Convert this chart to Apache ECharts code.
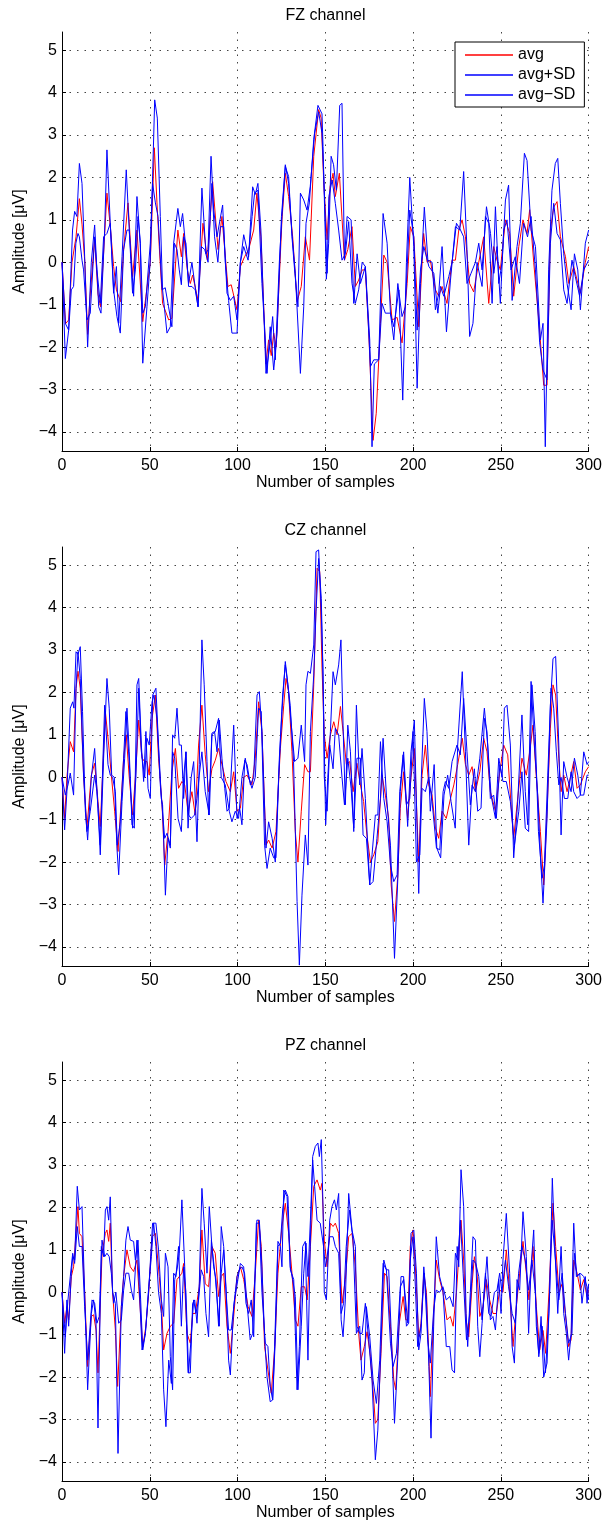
<!DOCTYPE html>
<html>
<head>
<meta charset="utf-8">
<title>FZ / CZ / PZ channels</title>
<script src="https://cdn.jsdelivr.net/npm/echarts@6/dist/echarts.min.js"></script>
<style>
  html, body { margin: 0; padding: 0; background: #fff; }
  #main { width: 605px; height: 1524px; }
</style>
</head>
<body>
<div id="main"></div>
<script>
// channel titles, legend names, axis ranges
var titles = ['FZ channel', 'CZ channel', 'PZ channel'];
var seriesNames = ['avg', 'avg+SD', 'avg\u2212SD'];
var xRange = [0, 300];
var xStep = 50;
var yRange = [-4.45, 5.43];

// [sample, amplitude]
var fzAvg = [[0,0],[2,-1.45],[3.8,-1.36],[5.7,0],[8,0.6],[9.9,1.5],[11.4,0.9],[13,0],[14.6,-1.7],[16,-0.8],[18.6,0.55],[20.5,-0.75],[22,-1.05],[25.6,1.63],[27.5,0.85],[29.4,-0.1],[31,-0.65],[33.4,-0.93],[35,0.25],[37.6,1.4],[40.2,-0.34],[42.7,0.76],[46,-1.4],[47.8,-0.8],[50.3,0],[52.6,2.7],[54.1,1.4],[55.4,0.37],[57.3,-0.97],[60.8,-1.36],[62.6,-1.32],[66,0.76],[68,0.13],[69.3,0.68],[71.4,-0.18],[73.1,-0.5],[74.4,-0.3],[77.5,-0.9],[80.3,0.92],[82.8,0.05],[85.8,1.9],[88.9,0.3],[91.1,1.08],[94.5,-0.57],[96.4,-0.53],[99.7,-1.12],[101.6,-0.1],[104,0.13],[106.3,0.3],[109.2,0.76],[111,1.63],[113.3,0.6],[116.2,-2.4],[117.7,-1.83],[119.2,-2.2],[120.6,-1.67],[122,-2.0],[125.3,1.0],[127.2,2.1],[129.1,1.55],[131.4,0.6],[133.9,-0.93],[136.3,-0.57],[138.6,0.6],[141,0.05],[143.4,2.5],[146.2,3.6],[147.6,3.4],[149.2,1.8],[151,0.53],[152.7,1.78],[154.4,2.1],[155.7,1.55],[158,2.1],[160.9,0.05],[162.8,0.3],[165.2,0.84],[167.1,-0.57],[169,-0.42],[171,-0.18],[172.8,-0.18],[174.7,-1.6],[177.2,-4.2],[179,-3.56],[181.4,-1.44],[183.3,0.17],[185.2,0],[188,-1.36],[190.9,-1.3],[193.7,-1.9],[196.6,-0.5],[198.4,0.84],[200.4,0.6],[203.2,-1.52],[206,0.68],[208,0],[209.8,0.05],[212.7,-0.65],[214.6,-0.8],[216.5,-0.57],[219.3,-0.97],[222.2,0.05],[224.1,0.05],[226,0.76],[227.9,1.0],[229.8,0.6],[232.2,-0.5],[234.5,-0.7],[237.4,0],[240.2,0.6],[243.1,-0.97],[245.9,0.37],[247.8,0.05],[249.7,-0.18],[252.6,1.0],[255,0.68],[257.3,-0.8],[260.2,0.37],[262.6,1.0],[264.9,0.68],[266.4,1.24],[268.7,0],[271.6,-1.36],[274.4,-2.9],[276.3,-2.9],[278.2,0.76],[280.1,1.3],[282,1.43],[283.9,0.6],[286.8,0.13],[288.7,-0.5],[291.5,-0.1],[293.4,-0.42],[295.3,-0.73],[298.1,0],[300,0.37]];
var fzPlus = [[0,0],[1.9,-2.27],[3.8,-1.6],[6,0.76],[7.2,1.2],[8.5,1.08],[9.9,2.33],[11.4,1.86],[12.9,0.13],[14.6,-2.0],[16.7,0],[18.6,0.88],[20.9,-1.05],[22.2,-1.2],[24.3,0.76],[25.6,2.65],[27.5,0.92],[29.4,-0.73],[31,-0.1],[32.3,-1.44],[34.2,0.13],[36.6,2.18],[38.3,0.76],[40.8,-0.8],[42.7,1.55],[44.6,0.45],[46,-2.38],[48.4,-1.05],[50.3,0.05],[52.8,3.83],[54.3,3.4],[56,1.08],[57.3,-0.65],[59.8,-1.67],[61.7,-1.52],[63.6,0.45],[66,1.27],[67.4,0.84],[68.7,1.15],[70.6,0.3],[72.1,-0.5],[74,0],[75.6,-0.5],[77.5,-1.05],[79.7,1.75],[82,0.2],[83.2,0.3],[84.9,2.5],[86.4,1.23],[88.3,0.6],[91.5,1.35],[93,0],[94.9,-0.9],[96.8,-1.67],[99.7,-1.67],[101.6,0],[103.5,0.65],[106.3,0.13],[108.6,1.78],[110.1,1.6],[111.6,1.86],[113.3,0.76],[116.2,-2.62],[118.6,-1.9],[120,-1.28],[121.5,-2.3],[123.8,0],[125.3,1.08],[127.2,2.3],[129.1,1.86],[131,0.68],[132.9,-0.26],[135.8,-2.62],[137.7,-1.05],[139,0.92],[140.9,1.4],[143.4,2.9],[145.8,3.7],[148.1,3.5],[148.7,2.73],[150.6,-0.4],[151.9,0.45],[153.3,2.5],[154.7,2.3],[156.3,1.7],[158.2,3.7],[159.5,3.75],[160.9,0.05],[162.4,1.08],[164.7,1.0],[166.2,-0.97],[168.1,0.2],[170,-0.5],[172.8,-0.1],[175.3,-1.83],[176.6,-4.35],[177.9,-2.4],[180.4,-2.3],[182.9,1.15],[185.2,0.45],[187.1,-1.2],[189,-1.52],[191.9,-0.65],[194.1,-3.25],[196.2,0],[198.1,2.0],[200.4,0.37],[202.3,-2.97],[204.2,-0.5],[206.4,1.3],[208.4,0.05],[210.8,0],[212.7,-1.12],[214.6,-0.73],[216.5,0.37],[219,-1.64],[221.3,-0.42],[224.1,0.84],[226.6,0.76],[228.8,2.14],[230.7,0.3],[232.2,-1.75],[234.1,-1.44],[236.4,0],[239.3,-0.57],[241.2,1.08],[243.1,0.92],[245,-0.97],[246.9,1.31],[248.8,-0.5],[250.7,0],[252.6,1.47],[254.4,1.82],[256.4,-0.9],[259.2,0.37],[261.1,0.92],[263.4,2.57],[264.9,2.4],[267.2,0.76],[269.7,0.37],[272.5,-1.83],[274,-1.44],[275.3,-4.35],[277.2,-0.18],[279.1,1.7],[281,2.33],[282.4,2.45],[283.9,1.39],[285.8,0.2],[287.7,-0.5],[290,-1.12],[291.9,0.2],[293.8,-0.18],[295.3,-1.12],[298.1,0.45],[300,0.76]];
var fzMinus = [[0,0],[2,-1.45],[3.8,-1.6],[5.3,-0.65],[6.6,-0.57],[7.9,0.45],[9.1,0.68],[9.9,0.6],[11.4,0.05],[12.3,-0.18],[14.2,-1.36],[16.1,-1.2],[18.6,0.6],[19.9,-0.18],[21.8,-0.97],[23.7,0.6],[25.6,0.68],[27.5,0.92],[29.4,-0.65],[31.3,-1.28],[33.2,-1.67],[35.1,0.3],[37,0.76],[38.3,0.76],[40.2,-0.73],[41.8,-0.18],[43.3,1.08],[44.6,0.45],[46,-1.2],[47.5,-1.05],[50.3,0.45],[51.6,1.86],[53.2,1.4],[54.7,1.08],[57,-0.65],[58.8,-0.6],[60.7,-1.05],[62.6,-1.52],[64,0.45],[65.5,0.3],[66.8,-0.18],[68,-0.53],[69.3,0.6],[70.6,0.45],[72.1,-0.57],[74,-0.57],[75.9,-0.65],[77.5,-1.05],[79.4,0.37],[81.3,0.3],[83.2,0],[84.5,1.08],[85.4,1.86],[86.9,0.6],[88.8,0],[90.2,0.84],[92.1,0.84],[94,-0.73],[95.9,-0.9],[97.8,-0.8],[99.7,-1.36],[101.6,0],[103.5,0.37],[106,0.05],[108.3,1.08],[109.7,1.63],[111.6,1.7],[113.9,-0.5],[115.4,-1.52],[116.8,-2.62],[118.6,-1.52],[120.6,-2.54],[122.5,-1.67],[125,1.08],[127.2,2.26],[129.1,2.02],[131,0.6],[132.5,-0.18],[134.4,-1.05],[135.8,1.63],[137.7,1.47],[139.6,1.23],[141.4,1.78],[143.9,3.04],[146.2,3.55],[148.1,3.04],[149.4,1.7],[151,-0.26],[152,1.55],[153.9,1.94],[155.7,1.39],[157.6,0.76],[159.5,0.05],[161.4,0.2],[163.3,0.96],[165.2,-0.5],[167.1,-0.97],[169,-0.65],[171,0],[172.8,-0.1],[175.7,-2.46],[177.6,-2.3],[180.4,-2.3],[182.3,-0.97],[184.2,-1.2],[187.1,-1.2],[189,-1.83],[191.3,-0.5],[193.7,-1.28],[195.6,-1.05],[198.1,1.23],[200.4,0.6],[202.3,-1.6],[204.2,-0.18],[206.1,0.37],[209,-0.1],[211.8,-0.26],[214.1,-1.2],[215.6,-0.57],[217.5,-0.8],[220.3,-0.34],[222.2,0],[224.7,0.92],[227,0.76],[228.8,0.6],[230.7,-0.5],[233,-0.26],[235.5,0],[237.4,0.45],[239.3,-0.18],[241.8,1.31],[244.1,0.68],[246,-0.26],[247.8,0.37],[249.7,-0.97],[251.6,0.76],[253.5,1.0],[255.8,-0.18],[258.2,0.13],[260.6,-0.5],[262.9,0.92],[265.2,0.6],[267.2,1.08],[269.7,-0.18],[272.1,-1.9],[274,-2.54],[276.3,-2.77],[278.2,0.45],[280.1,1.39],[282,0.68],[283.9,0.53],[285.8,-0.65],[287.7,-0.97],[290.5,0.05],[292.4,-0.34],[294.9,-0.8],[297.2,-0.18],[300,0.05]];

var czAvg = [[0,0],[1.5,-0.97],[2.8,0],[4.7,0.84],[5.7,0.88],[6.6,0.6],[8,2.1],[9.1,2.5],[10.4,2.1],[12.3,0.05],[14.2,-1.2],[16.7,0.05],[18.6,0.33],[20.5,-0.57],[21.8,-1.16],[24.7,1.55],[26.6,0.76],[28.1,0.05],[30,-0.8],[31.9,-1.75],[33.8,-0.5],[35.1,0.45],[36.6,1.0],[38.3,0],[40.2,-0.89],[41.8,0],[43.7,1.35],[45.6,0.45],[47.1,0.37],[48.4,0.37],[49.7,0.05],[51.3,1.39],[53.2,1.94],[55,0.45],[57,-0.65],[58.5,-2.07],[60.4,-1.28],[62.6,0.13],[64.6,0.68],[66.4,-0.26],[68.3,-0.1],[69.9,-0.18],[71.8,-0.8],[74,-0.34],[75.9,-0.89],[77.8,0.76],[79.7,1.7],[81.6,0.53],[83.5,-0.34],[85.4,0.2],[87.3,0.4],[89.2,0.68],[91.1,0.3],[93.4,-0.1],[95.9,-0.34],[97.8,0.13],[99.7,-0.8],[101.6,-0.73],[103.5,0],[105.4,0.05],[108.2,-0.18],[110.1,0.45],[112,1.78],[113.9,1.08],[116.2,-1.6],[117.7,-1.48],[119.7,-1.67],[121.9,-1.28],[124.4,0.68],[126.3,1.7],[127.6,2.33],[129.1,2.02],[131,0.6],[132.9,-1.28],[134.4,-2.0],[136.3,-0.8],[138.2,0.3],[140.1,0.13],[141.5,0.13],[143.4,2.18],[145.3,4.93],[146.8,4.85],[148.1,2.6],[149.4,1.0],[151,0.45],[152.9,1.0],[154.8,1.31],[156.7,1.0],[158.6,1.67],[160.1,1.08],[162,0.3],[163.9,0.37],[165.8,-0.34],[168,0.33],[170,-0.18],[171.8,-0.57],[173.7,-1.36],[175.7,-2.0],[177.6,-1.83],[179.9,-1.52],[182.3,0.05],[184.2,-0.42],[186.1,-0.97],[187.5,-2.54],[189.4,-3.4],[191.3,-2.3],[192.7,-0.73],[194.6,0.13],[196.9,-0.97],[198.8,0],[200.7,0.68],[203.2,-2.0],[205.1,0.05],[207,0.76],[208.9,-0.18],[210.8,-0.42],[212.7,-1.2],[214.6,-1.44],[216.5,-0.8],[218.9,-0.97],[221.3,-0.5],[223.2,-0.18],[225.4,0.3],[228,0.92],[229.8,0.3],[231.7,0.05],[233.6,0.25],[235.5,-0.34],[238,0.13],[240.2,0.92],[242.1,0.6],[244,-0.34],[246.9,-0.8],[249.4,0.13],[251.6,0.76],[253.9,0.53],[255.8,-0.65],[257.3,-1.44],[259.2,-0.65],[262,0.45],[264.5,0.05],[266.4,0.6],[268.3,1.23],[270.2,0],[272.5,-1.28],[274.4,-2.54],[276.3,-0.8],[278.2,1.16],[279.7,2.18],[281.2,1.94],[283,0.45],[284.3,-0.34],[285.8,0.05],[287.7,-0.34],[289.6,0],[291.5,0.37],[293.4,-0.26],[295.3,-0.18],[298.1,0.13],[300,0.25]];
var czPlus = [[0,0],[1.5,-1.24],[2.8,-0.34],[4.7,1.63],[6.1,1.78],[6.8,1.63],[8,2.96],[9.1,2.9],[10.4,3.08],[11.7,1.55],[13.3,-0.8],[14.6,-1.48],[16.7,0],[18.6,0.68],[20.5,-0.73],[21.8,-1.83],[23.7,0.45],[25.6,2.33],[26.9,1.63],[28.3,0.05],[29.8,0],[31.3,-1.67],[32.3,-2.3],[34.2,-0.57],[35.7,0.45],[37,1.63],[38.3,0.6],[39.9,-1.12],[41.2,-1.2],[42.7,2.18],[43.7,2.33],[45.2,0.76],[46.5,-0.1],[47.8,1.08],[49,-0.26],[50.3,-0.5],[51.7,1.94],[53.5,2.1],[55,0.76],[56.6,-0.5],[57.3,-0.65],[58.9,-2.78],[60.4,-1.44],[61.7,-1.67],[63,1.0],[64.2,0.92],[65.5,1.63],[66.8,0.76],[68,0.76],[69.3,-0.5],[70.6,0.6],[71.8,-1.2],[73.6,0],[75,0.37],[76.9,-1.52],[78.2,0.3],[79.7,3.24],[81,2.18],[82.6,0.37],[83.5,-0.89],[85.4,1.04],[86.9,1.08],[88.3,0.6],[89.6,1.35],[91.1,0.45],[92.7,-0.26],[94,-0.8],[95.3,-0.73],[97.8,1.23],[99.7,-0.97],[101.2,-0.73],[102.5,-1.12],[104.1,0.4],[105.4,0.3],[107.3,-0.18],[109.2,0],[111.1,1.94],[112.4,2.02],[113.9,1.08],[116.2,-1.67],[117.7,-1.05],[119.7,-1.44],[121.5,-2.0],[123.4,0],[125.3,1.55],[127.2,2.73],[128.7,2.18],[130.6,1.23],[132.5,0.37],[134.4,0.45],[136.3,1.23],[138.2,0.37],[139,2.18],[140.1,2.5],[141.5,2.45],[143.4,3.12],[144.7,5.32],[146.2,5.36],[147.7,3.9],[148.7,2.41],[150.2,-1.12],[151.4,0],[152.9,1.08],[154.4,2.49],[155.7,2.18],[157.6,2.65],[158.9,3.24],[160.1,1.23],[161.4,-0.65],[162.8,1.23],[164.3,0.6],[166.2,-1.28],[167.7,1.7],[169.6,-0.18],[170.9,0.68],[172.8,-0.5],[175.3,-2.54],[177.2,-2.46],[179.4,-1.44],[181.4,-0.5],[182.9,0.92],[184.8,-0.42],[187.1,-1.6],[189.4,-4.27],[191.3,-2.38],[192.7,-0.34],[194.6,0.6],[196.9,-1.16],[198.8,0.6],[200.7,1.35],[203.2,-2.74],[204.7,0],[206.4,1.86],[207.9,1.08],[209.8,-0.8],[212,0.3],[213.5,-1.67],[215.7,-1.9],[217.6,-0.42],[219.7,0.05],[221.6,-0.57],[224,-1.2],[225.4,0.76],[228,2.49],[229.8,0.6],[231.7,-1.6],[233.6,-0.18],[235.5,-0.34],[238,0.45],[240.6,1.63],[242.5,0.76],[244.4,-0.42],[246.9,-0.97],[248.8,0.45],[250.7,0],[252,1.63],[253.5,1.7],[255.4,0.76],[257.3,-1.9],[259.6,-0.57],[262,1.47],[263.9,-0.34],[265.3,-1.12],[267.2,2.26],[269.1,0.76],[271,-0.42],[272.5,-1.83],[274,-2.97],[276.3,-0.97],[278.2,1.7],[279.7,2.8],[281.2,2.85],[283,0.76],[284.3,-1.36],[285.8,0.37],[287.7,0],[290,-0.34],[291.9,0.45],[293.8,0.05],[295.3,-0.42],[297.2,0.6],[299.1,0.3],[300,0.37]];
var czMinus = [[0,0],[1.9,-0.42],[3.4,-0.18],[4.7,0.1],[6.6,-0.42],[8,2.1],[9.1,2.96],[10.4,2.33],[12.3,0],[14.2,-1.28],[16.1,-0.8],[18.6,0.05],[19.9,-0.34],[21.8,-1.6],[24.3,1.7],[26.2,0.3],[27.5,0.05],[28.8,0],[30.4,-0.34],[31.5,-1.6],[33.2,-1.05],[35.1,0.45],[36.4,1.55],[38.3,0.37],[40.2,-1.2],[42.1,0],[43.7,2.1],[45.2,0.6],[47.1,0],[48.4,0.92],[49.7,0.76],[51.3,1.78],[52.4,1.94],[54.1,1.39],[56,-0.18],[58.5,-1.44],[59.8,-1.32],[61.7,-1.6],[63,0.6],[64.2,0.45],[66.1,-0.97],[68,-1.28],[69.3,0],[70.6,0.6],[72.1,-0.89],[73.6,-0.97],[75.5,-0.89],[76.9,-0.5],[78.2,0.05],[79.7,0.6],[81.6,-0.34],[83.9,-0.89],[85.4,1.0],[87.3,1.08],[89.2,1.39],[90.7,0],[93,-0.18],[95.3,-0.8],[96.8,-1.05],[98.7,-0.8],[100.6,-0.97],[102.5,0],[104.4,0.45],[106,0.05],[108.2,-0.26],[110.1,0],[112,1.63],[113.5,1.55],[115.4,-1.6],[116.8,-2.15],[118.6,-1.67],[120.6,-1.9],[121.9,-1.9],[123.8,0.45],[125.7,1.94],[127.2,2.65],[128.7,2.18],[130,1.7],[131.9,0.37],[133.9,-2.93],[135.2,-4.43],[136.7,-2.78],[138.6,-1.36],[140.1,-2.07],[141.5,1.08],[143.4,2.41],[144.7,3.9],[146.2,5.16],[147.7,4.22],[148.6,2.6],[149.4,0],[151,-0.8],[152.5,0.76],[154.4,0.2],[155.7,1.16],[157.6,1.0],[159.5,0],[160.9,-0.65],[162.8,0.45],[164.7,-0.26],[166.2,-1.2],[168,0.45],[170,0.45],[171.5,-1.36],[173.4,-1.44],[175.3,-2.54],[176.6,-1.83],[178.5,-0.89],[179.9,-0.89],[181.4,0.84],[183.3,-0.5],[185.2,-1.05],[187.1,-2.07],[189,-2.46],[190.9,-2.3],[192.4,-0.34],[194.3,0.53],[196.2,-0.65],[198.1,-0.5],[200,1.08],[201.9,-2.0],[203.8,-1.83],[205.1,-0.26],[207,-0.34],[208.9,0],[210.8,-0.57],[213.3,-1.67],[215.2,-1.71],[217.1,-0.34],[218.4,-0.1],[220.3,-0.26],[222.2,0.37],[225,0.76],[226.9,0.53],[228.8,1.86],[230.7,0.6],[232.6,-0.65],[234.9,0.2],[236.8,-0.8],[238.7,-0.73],[240.6,1.39],[242.1,1.08],[244,-0.5],[245.9,-0.42],[247.4,-0.97],[249.4,0.3],[251.2,-0.1],[253.1,-0.1],[255.4,-0.57],[257.7,-1.6],[260.2,-0.8],[262,0.13],[263.9,-1.2],[265.8,-1.28],[267.7,2.18],[269.5,1.08],[271.4,-1.28],[273.5,-2.38],[274.8,-2.07],[276.7,0.05],[278.6,2.1],[280.1,1.63],[281.6,0.6],[283,-0.18],[284.3,0],[286.2,-0.5],[288.1,-0.5],[290,0.13],[291.5,-0.34],[293.4,-0.5],[295.3,-0.42],[297.2,-0.42],[299.1,0.05],[300,0.05]];

var pzAvg = [[0,0],[1.5,-0.73],[2.8,-0.34],[3.8,-0.65],[5.3,0.37],[6.6,0.6],[8,1.39],[9.1,2.02],[9.9,1.39],[11.4,1.31],[12.9,0],[14.6,-1.75],[16.7,-0.57],[18,-0.53],[19.4,-0.89],[20.5,-1.9],[22.8,0.92],[24.7,1.39],[25.6,1.47],[26.6,1.2],[27.5,1.63],[28.8,0],[30.4,-0.89],[31.7,-2.22],[33.8,-0.34],[35.1,0.37],[37,1.0],[38.9,0.6],[40.8,0.49],[42.7,0.76],[44.6,-0.42],[46,-1.28],[47.8,-0.8],[49.4,0],[51.3,1.31],[53.2,1.39],[55.4,0.37],[56.6,-0.26],[57.9,-1.36],[59.8,-0.97],[61.7,-0.8],[63.6,-0.73],[65.5,0.3],[66.8,0.37],[68.3,0.45],[69.3,0.68],[71.2,-0.97],[73.1,-1.2],[74.4,-0.5],[75.9,-0.5],[78.2,0.13],[79.7,1.47],[81.6,0.2],[83.5,0.13],[85.4,1.08],[87.3,0.92],[89.2,-0.1],[90.7,0.37],[92.1,0.45],[94,-0.8],[95.9,-1.44],[97.8,-0.57],[99.7,0.37],[101.6,0.6],[103.5,0.3],[106,-0.34],[108.2,-0.57],[110.1,0.45],[112,1.7],[113.5,1.08],[115.4,-1.28],[117.3,-1.83],[119.2,-2.38],[121.1,-1.36],[123,0.45],[125.3,1.55],[127.2,2.1],[129.1,1.39],[131,0.45],[132.9,-0.65],[134.4,-0.8],[136.3,0.13],[138.2,0.13],[139.7,-0.18],[141.5,1.08],[143.4,2.5],[145.3,2.65],[147.1,2.41],[148.1,2.57],[149.4,1.23],[151,0.6],[152.9,1.63],[154.4,1.55],[155.7,1.63],[157.6,1.39],[159.5,-0.26],[161.4,0.3],[163.3,1.31],[165.2,1.39],[167.1,0.6],[169,-0.97],[170.3,-1.6],[172.2,-1.28],[173.8,-0.93],[175.7,-1.52],[177.6,-2.54],[178.5,-3.09],[179.9,-3.0],[181.7,-1.44],[183.7,0.45],[185.2,0.37],[187.1,-0.8],[189,-2.07],[190.1,-2.3],[191.9,-0.8],[194.3,-0.1],[195.8,-0.65],[197,-0.65],[198.4,1.08],[199.9,1.47],[201.3,0.6],[203.2,-1.05],[204.5,-0.73],[206.1,0.45],[207.6,0],[209.8,-2.46],[211.7,-0.5],[213.2,0.76],[215.1,0.3],[217,0],[219.3,-0.65],[221.2,-0.57],[222.8,-0.8],[224.7,0],[226,0.84],[227.3,1.7],[228.8,0.76],[230.2,-0.65],[231.7,-1.05],[233.6,0.2],[234.9,0.84],[236.4,0.45],[238,-0.57],[239.8,-0.34],[241.7,0.3],[243.6,-0.18],[245.5,-0.5],[247.4,-0.5],[249.3,0.05],[251.2,0],[253.1,1.0],[255,0],[256.9,-1.28],[258.8,-0.34],[260.7,0.45],[262.6,1.2],[264.5,0.45],[266,-0.18],[268.3,1.08],[270.2,-0.34],[272.1,-1.36],[274,-0.9],[275.5,-1.44],[277.4,0],[279.7,2.1],[281.2,1.08],[283.1,0],[284.9,0.2],[286.7,-0.5],[288.6,-1.28],[290,-1.12],[291.5,0.76],[293.4,0.45],[295.3,0.05],[297.2,0.3],[299.1,-0.1],[300,0.05]];
var pzPlus = [[0,0],[1.5,-1.44],[2.8,-0.18],[3.8,-0.8],[5.3,0.45],[6.1,0.84],[7.2,0.76],[8.7,2.5],[9.9,1.94],[11.4,2.02],[12.9,0],[14.6,-2.3],[16.7,-0.5],[18,-0.18],[19.4,-0.73],[20.5,-3.2],[22.4,1.08],[23.7,0.84],[24.7,1.94],[25.6,2.02],[26.6,1.7],[27.5,2.25],[28.8,0],[30.4,-0.26],[31.9,-3.8],[33.8,-0.34],[35.1,0.37],[36.4,1.23],[37.6,1.55],[38.9,1.23],[40.8,1.2],[41.8,0.76],[43.3,1.23],[44.8,-0.18],[46,-1.36],[47.5,-0.97],[49.4,0.05],[51.6,1.63],[53.5,1.63],[55,1.0],[56.6,-0.18],[57.9,-0.57],[58.9,0.92],[60.4,0.6],[61.7,-1.52],[63,-2.3],[64.2,0.3],[65.5,0.53],[66.8,0.92],[68.3,2.18],[69.9,0.6],[71.8,-1.9],[73.1,-1.9],[74.4,-0.26],[75.6,-0.18],[76.9,-0.73],[78.2,0.2],[79.7,2.45],[81,1.63],[82.6,0.45],[83.9,2.02],[85.4,1.08],[87.3,0.37],[89.6,-0.8],[90.7,1.55],[92.1,1.08],[93.4,0.13],[94.9,-1.6],[95.9,-1.95],[97.8,-0.34],[99.7,0.37],[101,0.53],[102.5,0.6],[104,0.45],[105.4,-0.26],[107.2,-1.12],[108.6,-0.97],[110.1,0.6],[111,1.7],[112.4,1.7],[113.9,0.6],[115.4,-1.05],[116.8,-2.0],[118.6,-2.58],[120,-2.54],[121.1,-1.28],[123,1.2],[124.4,1.08],[125.3,0.6],[126.3,2.41],[128.2,2.26],[130.1,0.53],[132,0.3],[133.9,-2.3],[135.2,-1.28],[137.1,1.08],[138.6,1.2],[140.1,-1.6],[141.5,1.23],[142.8,3.2],[144.3,3.44],[145.8,3.52],[146.6,3.2],[147.7,3.6],[148.7,2.0],[149.4,0],[150.6,-0.18],[152.5,1.7],[153.8,2.02],[155.2,2.18],[156.3,1.94],[157.6,2.33],[159,-0.65],[160.1,-1.05],[161.4,-0.18],[163.3,2.33],[165.2,1.47],[167.1,1.08],[168,-0.8],[169.6,-0.97],[170.9,-0.97],[172.8,-0.26],[174.7,-1.12],[176.6,-2.07],[178.5,-3.95],[179.9,-3.25],[181.7,-1.28],[183.3,0.76],[184.8,0.53],[186.1,0.53],[188,-1.44],[189.4,-3.09],[191.3,-1.52],[193.1,0.37],[194.6,0.37],[196.2,-0.8],[197.5,-0.73],[198.8,1.39],[200.4,1.47],[201.9,0.45],[203.2,-1.36],[204.5,-0.97],[206.1,0.6],[207.6,-0.18],[209,-1.75],[210.2,-3.44],[211.7,-0.8],[213.2,1.31],[215.1,0.37],[217,0.05],[218.9,-1.28],[220.9,-1.28],[222.2,-1.83],[223.6,-1.9],[225.1,1.08],[226,0.6],[227.3,2.89],[228.8,2.02],[230.2,-0.5],[231.1,-1.28],[232.6,0],[234.1,1.31],[235.5,1.23],[236.8,-0.8],[238,-1.52],[239.3,-0.73],[240.6,0.05],[242.1,0.84],[244,-0.65],[245.5,-0.57],[246.9,-0.89],[248.8,0.3],[250.1,-0.5],[251.2,0.76],[253.1,1.86],[255,0.45],[256.4,-1.28],[257.7,-1.67],[259.2,0.3],[260.7,0.05],[262.6,1.9],[264.5,0.84],[265.8,-0.97],[267.2,0.6],[268.7,1.47],[270.2,-0.8],[271.6,-1.44],[272.9,-0.57],[274.4,-2.0],[276.3,-1.67],[277.8,0],[279.3,2.69],[280.9,0.92],[282.4,-0.5],[284.3,1.08],[285.8,-0.5],[287.3,-0.97],[288.6,-1.6],[290,-0.97],[291.5,1.63],[293,0.37],[294.9,0.45],[296.2,-0.26],[298.1,0.37],[299.1,-0.26],[300,0.2]];
var pzMinus = [[0,0],[1.9,-1.05],[3.4,-0.18],[4.7,0.37],[6.1,0.92],[7.2,0.68],[8.7,1.55],[9.9,1.08],[11.4,1.08],[12.9,-0.34],[14.6,-1.6],[17.1,-0.18],[18.6,-0.26],[19.9,-0.73],[21.2,-0.57],[22.8,1.23],[24.3,0.84],[25.6,0.92],[26.9,0.84],[28.1,0.45],[29.4,-0.26],[30.7,0],[32.3,-0.73],[33.8,-0.65],[35.1,0.05],[36.4,0.45],[38,0.45],[39.5,0.05],[40.8,-0.18],[42.7,1.23],[44,0.13],[45.6,-1.36],[47.5,-0.97],[49.4,0.13],[50.9,0.84],[52.2,1.63],[53.5,1.08],[55,0],[56.6,-0.5],[57.9,-2.3],[59.2,-3.17],[60.8,-1.6],[62.3,-2.15],[63.6,0.45],[64.9,0.37],[66.4,1.08],[68,-0.8],[69.3,0.6],[70.6,0],[72.1,-1.9],[73.6,-1.05],[75,-0.18],[76.3,-0.5],[77.8,-0.18],[79.3,0.53],[80.7,0.37],[82,-0.5],[83.5,-1.05],[85.1,1.23],[86.4,0.6],[87.7,0.3],[89.2,-0.8],[90.7,0.45],[92.1,1.0],[93.4,0.05],[94.9,-0.89],[96.4,-0.89],[98.3,-0.18],[100.2,0.3],[101.6,0.68],[103.5,0.6],[104.8,-0.26],[106.3,-0.5],[107.8,-0.18],[109.2,-1.05],[110.7,1.63],[112.4,1.63],[113.9,0],[115.8,-1.2],[117.3,-1.28],[118.6,-2.22],[120,-2.54],[121.5,-1.12],[123,1.08],[124.4,1.16],[125.7,1.94],[127.2,2.41],[128.7,2.26],[130,0.6],[131.4,0.3],[132.9,-0.1],[134.4,-2.3],[136.3,-0.8],[137.7,0.45],[139,1.16],[140.1,0.37],[141.5,1.7],[142.8,3.12],[143.9,2.5],[145.3,1.7],[147.1,1.63],[149,1.08],[150,0.6],[151,0.84],[152.5,1.31],[154.4,1.31],[155.7,1.08],[157.6,0.92],[159,-0.5],[160.4,-0.26],[161.9,1.08],[163.8,1.94],[165.8,1.23],[167.7,-0.97],[169.6,-0.8],[170.9,-2.07],[172.2,-1.9],[173.4,-0.34],[175.3,-1.05],[177.2,-2.07],[179.1,-2.62],[181,-1.6],[182.9,0.68],[184.8,0.53],[187.1,-1.2],[188.6,-1.75],[190.5,-1.44],[192.7,0.13],[194.6,0.3],[197,-0.73],[198.4,0.76],[199.9,1.31],[201.3,0.13],[202.6,-1.28],[204.5,-0.8],[206.4,0.45],[208.3,-1.12],[209.8,-1.67],[211.7,-0.42],[213.2,0.05],[215.1,0],[217,0.13],[218.9,-0.18],[220.9,-0.1],[222.8,-0.34],[224.1,0.92],[225.4,0.76],[227,1.7],[228.5,0.45],[230.4,-1.12],[232.3,-0.5],[234.1,0.76],[235.7,0.68],[237.4,0.37],[239.3,-0.65],[241.2,0.45],[243.1,-0.5],[244.4,-0.57],[246.3,0],[247.8,0.05],[249.3,0.45],[250.6,0],[252.6,0.76],[254.4,0.13],[256.4,-0.5],[258.2,-0.73],[260.1,0.45],[262,1.08],[263.9,0.76],[265.8,0.05],[267.7,0.76],[269.6,0],[271.6,-1.52],[273.5,-0.8],[275.4,-1.9],[277.3,-0.5],[279.2,1.7],[281.1,0.76],[283,-0.18],[284.9,0.45],[286.8,-0.5],[288.6,-1.2],[290.5,-0.97],[291.9,0.92],[293.4,0.37],[295.3,0.45],[297.2,0.37],[299.1,0.13],[300,-0.18]];

var channels = [
	[fzAvg, fzPlus, fzMinus],
	[czAvg, czPlus, czMinus],
	[pzAvg, pzPlus, pzMinus]
];
var lineColors = ['#ff0000', '#0000ff', '#0000ff'];
var font = '"Liberation Sans", Arial, Helvetica, sans-serif';

var myChart = echarts.init(document.getElementById('main'));

var grid = [], title = [], xAxis = [], yAxis = [], series = [];
for (var i = 0; i < channels.length; i++) {
	var gridTop = 32 + 515 * i;   // panels repeat every 515px
	grid.push({ left: 62, width: 527, top: gridTop, height: 419 });
	title.push({
		text: titles[i],
		left: 325.5,
		top: gridTop - 25,
		textAlign: 'center',
		padding: 0,
		textStyle: { fontSize: 16, fontWeight: 'normal', color: '#000', fontFamily: font, lineHeight: 18 }
	});
	xAxis.push({
		type: 'value',
		gridIndex: i,
		min: xRange[0],
		max: xRange[1],
		interval: xStep,
		name: 'Number of samples',
		nameLocation: 'middle',
		nameGap: 24,
		nameTextStyle: { fontSize: 16, color: '#000', fontFamily: font },
		axisLine: { onZero: false, lineStyle: { color: '#000', width: 1 } },
		axisTick: { inside: true, length: 4, lineStyle: { color: '#000' } },
		axisLabel: { margin: 7, fontSize: 16, color: '#000', fontFamily: font },
		splitLine: { show: true, lineStyle: { color: '#444', type: [1.5, 6], width: 1 } }
	});
	yAxis.push({
		type: 'value',
		gridIndex: i,
		min: yRange[0],
		max: yRange[1],
		splitNumber: 10,
		name: 'Amplitude [\u03bcV]',
		nameLocation: 'middle',
		nameGap: 32,
		nameTextStyle: { fontSize: 16, color: '#000', fontFamily: font },
		axisLine: { show: true, onZero: false, lineStyle: { color: '#000', width: 1 } },
		axisTick: { show: true, inside: true, length: 4, lineStyle: { color: '#000' } },
		axisLabel: {
			margin: 5,
			fontSize: 16,
			color: '#000',
			fontFamily: font,
			showMinLabel: false,
			showMaxLabel: false,
			formatter: function (v) {
				if (Math.abs(v - Math.round(v)) > 1e-6) return '';
				return v < 0 ? '\u2212' + Math.abs(v) : String(v);
			}
		},
		splitLine: {
			show: true,
			showMinLine: false,
			showMaxLine: false,
			lineStyle: { color: '#444', type: [1.5, 6], width: 1 }
		}
	});
	for (var j = 0; j < 3; j++) {
		series.push({
			name: seriesNames[j],
			type: 'line',
			xAxisIndex: i,
			yAxisIndex: i,
			data: channels[i][j],
			showSymbol: false,
			symbol: 'none',
			smooth: false,
			z: 2 + j,
			lineStyle: { color: lineColors[j], width: 1 },
			itemStyle: { color: lineColors[j] }
		});
	}
}

var option = {
	backgroundColor: '#fff',
	animation: false,
	title: title,
	grid: grid,
	xAxis: xAxis,
	yAxis: yAxis,
	legend: {
		data: seriesNames,
		orient: 'vertical',
		left: 455,
		top: 42,
		icon: 'rect',
		itemWidth: 48,
		itemHeight: 1.5,
		itemGap: 4,
		padding: [5, 9, 4, 10],
		selectedMode: false,
		borderColor: '#000',
		borderWidth: 1,
		backgroundColor: '#fff',
		textStyle: { fontSize: 16, color: '#000', fontFamily: font }
	},
	series: series
};

myChart.setOption(option);
</script>
</body>
</html>
